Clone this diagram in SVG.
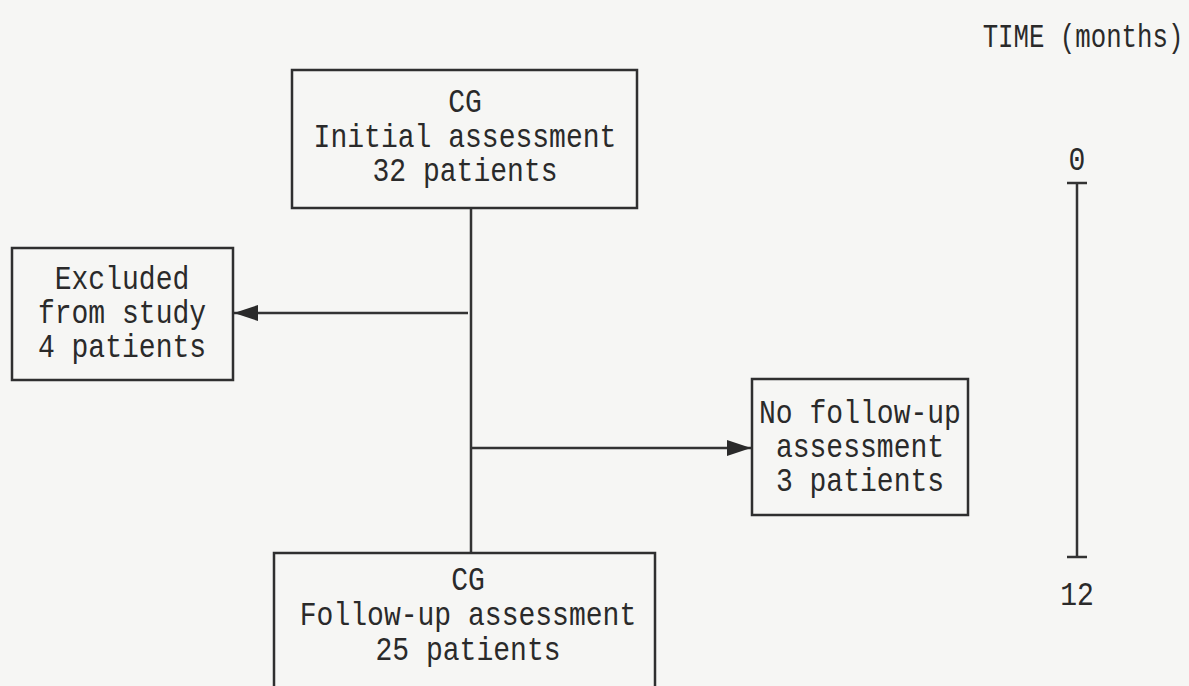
<svg xmlns="http://www.w3.org/2000/svg" width="1189" height="686" viewBox="0 0 1189 686">
  <style>
    .box { fill: none; stroke: #2f2f2f; stroke-width: 2.5; }
    .line { fill: none; stroke: #333; stroke-width: 2.5; }
    .t { font-family: "Liberation Mono", "DejaVu Sans Mono", monospace; font-size: 33px; fill: #2a2a2a; text-anchor: middle; }
  </style>
  <defs>
    <marker id="arrow" viewBox="0 0 24 16" refX="24" refY="8" markerWidth="24" markerHeight="16" markerUnits="userSpaceOnUse" orient="auto">
      <path d="M0,0 L24,8 L0,16 Z" fill="#2a2a2a"/>
    </marker>
  </defs>
  <rect width="1189" height="686" fill="#f6f6f4"/>

  <g id="connectors">
    <line class="line" x1="471" y1="208" x2="471" y2="554"/>
    <line class="line" x1="468" y1="313" x2="234" y2="313" marker-end="url(#arrow)"/>
    <line class="line" x1="471" y1="448" x2="751" y2="448" marker-end="url(#arrow)"/>
  </g>

  <!-- labels use a condensed typewriter look: tall glyphs squeezed horizontally -->
  <g id="initial">
    <rect class="box" x="292" y="70" width="345" height="138"/>
    <text class="t" transform="translate(465 112) scale(0.85 1)">CG</text>
    <text class="t" transform="translate(465 147) scale(0.85 1)">Initial assessment</text>
    <text class="t" transform="translate(465 181) scale(0.85 1)">32 patients</text>
  </g>

  <g id="excluded">
    <rect class="box" x="12" y="248" width="221" height="132"/>
    <text class="t" transform="translate(122 289) scale(0.85 1)">Excluded</text>
    <text class="t" transform="translate(122 323) scale(0.85 1)">from study</text>
    <text class="t" transform="translate(122 357) scale(0.85 1)">4 patients</text>
  </g>

  <g id="no-followup">
    <rect class="box" x="752" y="379" width="216" height="136"/>
    <text class="t" transform="translate(860 423) scale(0.85 1)">No follow-up</text>
    <text class="t" transform="translate(860 457) scale(0.85 1)">assessment</text>
    <text class="t" transform="translate(860 491) scale(0.85 1)">3 patients</text>
  </g>

  <g id="followup">
    <rect class="box" x="274" y="553" width="381" height="150"/>
    <text class="t" transform="translate(468 590) scale(0.85 1)">CG</text>
    <text class="t" transform="translate(468 625) scale(0.85 1)">Follow-up assessment</text>
    <text class="t" transform="translate(468 660) scale(0.85 1)">25 patients</text>
  </g>

  <g id="timeline">
    <text class="t" transform="translate(1083 47) scale(0.78 1)">TIME (months)</text>
    <text class="t" transform="translate(1077 170) scale(0.85 1)">0</text>
    <line class="line" x1="1077" y1="183" x2="1077" y2="557"/>
    <line class="line" x1="1067" y1="183" x2="1087" y2="183"/>
    <line class="line" x1="1067" y1="557" x2="1087" y2="557"/>
    <text class="t" transform="translate(1077 605) scale(0.85 1)">12</text>
  </g>
</svg>
